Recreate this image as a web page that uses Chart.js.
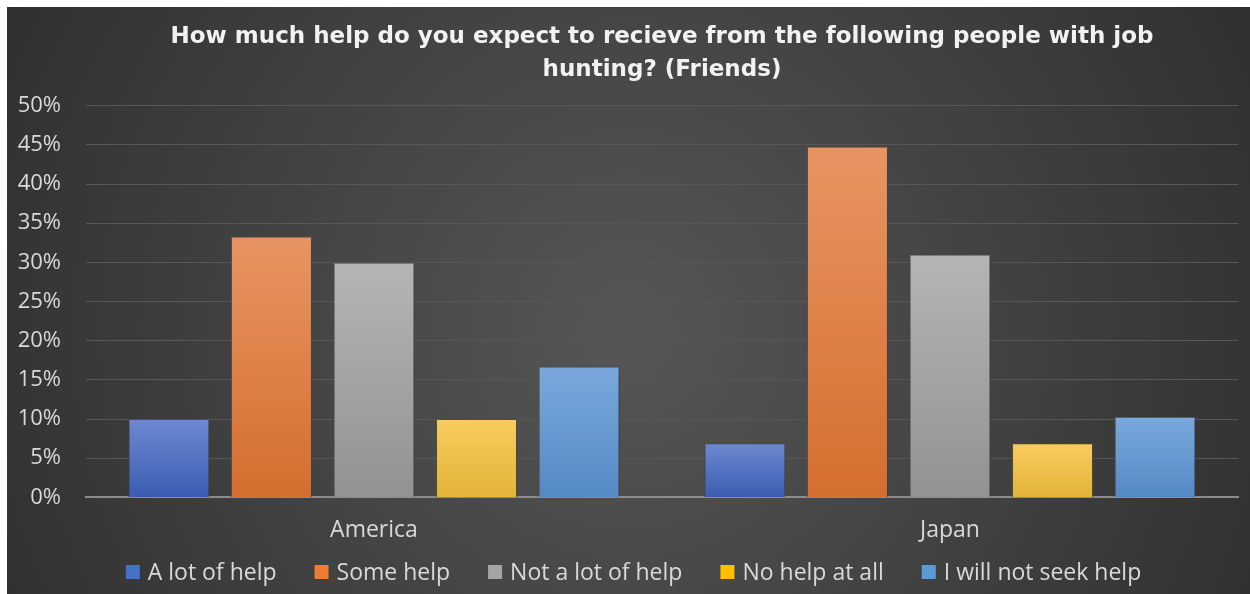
<!DOCTYPE html>
<html>
<head>
<meta charset="utf-8">
<script src="https://cdn.jsdelivr.net/npm/chart.js@4.4.1/dist/chart.umd.min.js"></script>
<style>
  html, body { margin: 0; padding: 0; background: #fff; }
  #wrap { position: absolute; left: 7px; top: 7px; width: 1243px; height: 587px; }
</style>
</head>
<body>
<div id="wrap"><canvas id="chart"></canvas></div>
<script>
const countries = ["America", "Japan"];
const answers = ["A lot of help", "Some help", "Not a lot of help", "No help at all", "I will not seek help"];

// share of respondents (%) per answer, one array per answer
const aLotOfHelp = [10.0, 6.9];
const someHelp = [33.3, 44.8];
const notALotOfHelp = [30.0, 31.0];
const noHelpAtAll = [10.0, 6.9];
const willNotSeekHelp = [16.7, 10.3];

const barColors = [
  { top: "#6d89d0", bottom: "#3a5db2", flat: "#4472c4" },
  { top: "#e89462", bottom: "#d46e2e", flat: "#ed7d31" },
  { top: "#b5b5b5", bottom: "#929292", flat: "#a5a5a5" },
  { top: "#f9cc60", bottom: "#e2b437", flat: "#ffc000" },
  { top: "#7aa8de", bottom: "#5589c4", flat: "#5b9bd5" }
];

const seriesValues = [aLotOfHelp, someHelp, notALotOfHelp, noHelpAtAll, willNotSeekHelp];

const textColor = "#d9d9d9";
const legendFont = "23px 'Open Sans'";

function barGradient(ctx, i) {
  const chart = ctx.chart;
  const y = chart.scales && chart.scales.y;
  if (!chart.chartArea || !y || ctx.type !== "data") return barColors[i].flat;
  const top = y.getPixelForValue(ctx.raw);
  const base = y.getPixelForValue(0);
  if (!isFinite(top) || !isFinite(base) || top === base) return barColors[i].flat;
  const g = chart.ctx.createLinearGradient(0, top, 0, base);
  g.addColorStop(0, barColors[i].top);
  g.addColorStop(1, barColors[i].bottom);
  return g;
}

const datasets = answers.map((name, i) => ({
  label: name,
  data: seriesValues[i],
  backgroundColor: ctx => barGradient(ctx, i),
  borderColor: "rgba(90,90,90,0.9)",
  borderWidth: 1,
  categoryPercentage: 0.89,
  barPercentage: 0.79
}));

// dark radial backdrop behind everything
const backdrop = {
  id: "backdrop",
  beforeDraw(chart) {
    const { ctx, width, height } = chart;
    const g = ctx.createRadialGradient(width * 0.5, height * 0.55, 20, width * 0.5, height * 0.55, width * 0.62);
    g.addColorStop(0, "#555555");
    g.addColorStop(1, "#2c2c2c");
    ctx.save();
    ctx.fillStyle = g;
    ctx.fillRect(0, 0, width, height);
    ctx.restore();
  }
};

// soft drop shadow under the bars
const barShadow = {
  id: "barShadow",
  beforeDatasetsDraw(chart) {
    const ctx = chart.ctx;
    ctx.save();
    ctx.shadowColor = "rgba(0,0,0,0.45)";
    ctx.shadowBlur = 5;
    ctx.shadowOffsetX = 1;
    ctx.shadowOffsetY = 1;
  },
  afterDatasetsDraw(chart) {
    chart.ctx.restore();
  }
};

// one centred legend row along the bottom, wider gaps than the built-in one
const bottomLegend = {
  id: "bottomLegend",
  afterDraw(chart) {
    const ctx = chart.ctx;
    const box = 14, gap = 8, spacing = 38;
    const y = chart.height - 22;
    ctx.save();
    ctx.font = legendFont;
    ctx.textBaseline = "middle";
    const items = chart.data.datasets.map((ds, i) => ({
      text: ds.label, color: barColors[i].flat, w: ctx.measureText(ds.label).width
    }));
    const total = items.reduce((s, it) => s + box + gap + it.w, 0) + spacing * (items.length - 1);
    let x = (chart.width - total) / 2 + 5;
    items.forEach(it => {
      ctx.fillStyle = it.color;
      ctx.fillRect(x, y - box / 2, box, box);
      ctx.fillStyle = textColor;
      ctx.fillText(it.text, x + box + gap, y + 1);
      x += box + gap + it.w + spacing;
    });
    ctx.restore();
  }
};

new Chart(document.getElementById("chart"), {
  type: "bar",
  data: { labels: countries, datasets: datasets },
  plugins: [backdrop, barShadow, bottomLegend],
  options: {
    responsive: true,
    maintainAspectRatio: false,
    animation: false,
    layout: { padding: { left: 10, right: 12, top: 10, bottom: 31 } },
    plugins: {
      title: {
        display: true,
        fullSize: false,
        text: ["How much help do you expect to recieve from the following people with job", "hunting? (Friends)"],
        color: "#f2f2f2",
        font: { family: "'DejaVu Sans'", size: 23, weight: "bold", lineHeight: 1.45 },
        padding: { top: 3, bottom: 19 }
      },
      legend: { display: false },
      tooltip: { enabled: false }
    },
    scales: {
      x: {
        grid: { display: false, drawTicks: false },
        border: { display: true, color: "#8c8c8c", width: 2 },
        ticks: { color: textColor, font: { family: "'Open Sans'", size: 23 }, padding: 19 }
      },
      y: {
        min: 0,
        max: 50,
        grid: { color: "#575757", lineWidth: 1, drawTicks: false },
        border: { display: false },
        afterFit: s => { s.width = 69; },
        ticks: {
          stepSize: 5,
          color: textColor,
          font: { family: "'Open Sans'", size: 22 },
          padding: 25,
          callback: v => v + "%"
        }
      }
    }
  }
});
</script>
</body>
</html>
